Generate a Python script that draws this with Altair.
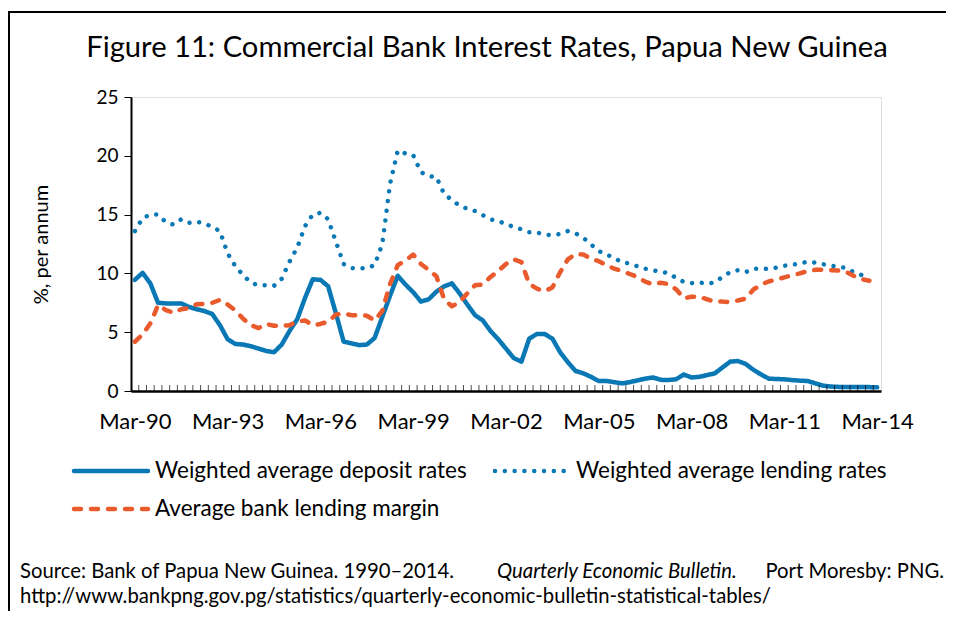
import altair as alt
import pandas as pd

# ---------------- data ----------------
months = ["Mar", "Jun", "Sep", "Dec"]
years = list(range(1990, 2015))
quarters = [f"{m}-{y % 100:02d}" for y in years for m in months][:97]  # Mar-90 .. Mar-14

deposit = [9.45, 10.05, 9.15, 7.5, 7.45, 7.45, 7.45, 7.15, 6.95, 6.8, 6.55, 5.6,
           4.4, 4.0, 3.95, 3.8, 3.6, 3.4, 3.3, 3.95, 5.1, 6.1, 7.9, 9.5,
           9.45, 8.9, 6.6, 4.2, 4.05, 3.9, 3.95, 4.5, 6.3, 8.1, 9.8, 9.05,
           8.4, 7.6, 7.8, 8.45, 8.9, 9.15, 8.3, 7.35, 6.45, 6.0, 5.1, 4.4,
           3.6, 2.8, 2.5, 4.45, 4.85, 4.85, 4.45, 3.3, 2.45, 1.7, 1.5, 1.2,
           0.85, 0.85, 0.75, 0.65, 0.75, 0.9, 1.05, 1.15, 0.95, 0.93, 1.0, 1.4,
           1.15, 1.2, 1.35, 1.5, 2.0, 2.5, 2.55, 2.3, 1.8, 1.4, 1.05, 1.02,
           0.99, 0.93, 0.88, 0.85, 0.65, 0.45, 0.38, 0.35, 0.35, 0.33, 0.33, 0.33,
           0.31]

lending = [13.6, 14.7, 15.0, 15.0, 14.35, 14.15, 14.6, 14.3, 14.4, 14.25, 13.95, 13.6,
           11.7, 10.6, 9.86, 9.2, 9.0, 9.0, 8.95, 9.55, 11.0, 12.2, 14.0, 15.0,
           15.15, 14.6, 12.7, 10.8, 10.45, 10.42, 10.45, 10.7, 12.5, 17.6, 20.45, 20.2,
           20.05, 18.6, 18.27, 18.2, 16.75, 16.25, 15.75, 15.5, 15.3, 14.95, 14.6, 14.45,
           14.2, 13.95, 13.75, 13.5, 13.48, 13.3, 13.25, 13.35, 13.6, 13.4, 13.03, 12.46,
           11.9, 11.6, 11.33, 10.92, 10.85, 10.6, 10.4, 10.25, 10.18, 10.0, 9.62, 9.28,
           9.17, 9.23, 9.12, 9.23, 9.7, 10.12, 10.27, 10.11, 10.4, 10.38, 10.39, 10.5,
           10.65, 10.75, 10.84, 11.0, 10.92, 10.78, 10.66, 10.58, 10.46, 10.1, 9.86, 9.75]

margin = [4.19, 4.8, 5.75, 7.3, 6.88, 6.65, 6.95, 7.05, 7.38, 7.4, 7.5, 7.75,
          7.35, 6.85, 6.15, 5.6, 5.35, 5.7, 5.55, 5.55, 5.6, 5.9, 6.0, 5.6,
          5.7, 5.9, 6.5, 6.6, 6.45, 6.45, 6.4, 6.0, 6.8, 9.1, 10.7, 11.1,
          11.6, 10.8, 10.3, 9.75, 7.8, 7.2, 7.55, 8.3, 9.0, 9.05, 9.7, 10.2,
          10.8, 11.2, 10.95, 9.1, 8.7, 8.5, 8.8, 10.1, 11.2, 11.65, 11.6, 11.25,
          11.04, 10.7, 10.4, 10.2, 9.95, 9.7, 9.3, 9.08, 9.2, 9.1, 8.65, 7.88,
          8.02, 8.02, 7.8, 7.6, 7.6, 7.56, 7.7, 7.86, 8.63, 9.05, 9.32, 9.48,
          9.66, 9.85, 10.0, 10.2, 10.3, 10.31, 10.28, 10.24, 10.12, 9.78, 9.5, 9.38]

series_names = ["Weighted average deposit rates",
                "Weighted average lending rates",
                "Average bank lending margin"]
series_values = [deposit, lending, margin]
y_ticks = [0, 5, 10, 15, 20, 25]
label_every = 12

title_text = "Figure 11: Commercial Bank Interest Rates, Papua New Guinea"
y_title = "%, per annum"
source_1a = "Source: Bank of Papua New Guinea. 1990\u20132014."
source_1b = "Quarterly Economic Bulletin."
source_1c = "Port Moresby: PNG."
source_2 = "http://www.bankpng.gov.pg/statistics/quarterly-economic-bulletin-statistical-tables/"

# ---------------- tables ----------------
rows = []
for name, vals in zip(series_names, series_values):
    for i, v in enumerate(vals):
        rows.append({"idx": i, "quarter": quarters[i], "series": name, "value": v})
df = pd.DataFrame(rows)

n = len(quarters)
tick_df = pd.DataFrame({"b": [k + 0.5 for k in range(n - 1)], "y0": [0] * (n - 1)})

label_vals = list(range(0, n, label_every))
label_map = "{" + ",".join(f"'{v}':'{quarters[v]}'" for v in label_vals) + "}"

FONT = "Lato"
BLUE = "#0A78B5"
ORANGE = "#E95A2D"
colors = [BLUE, BLUE, ORANGE]
dashes = [[1, 0], [0.01, 9.8], [7, 10]]

W, H = 750, 294

xscale = alt.Scale(domain=[-0.5, n - 0.5], nice=False, zero=False)
yscale = alt.Scale(domain=[0, 25], nice=False)

lines = alt.Chart(df).mark_line(strokeWidth=4.5, strokeCap="round", strokeJoin="round").encode(
    x=alt.X("idx:Q", scale=xscale,
            axis=alt.Axis(values=label_vals, labelExpr=f"{label_map}[datum.value]",
                          title=None, ticks=False, grid=False, domainColor="black",
                          domainWidth=2.5, labelFont=FONT, labelFontSize=22,
                          labelColor="black", labelPadding=20, labelFlush=False)),
    y=alt.Y("value:Q", scale=yscale,
            axis=alt.Axis(values=y_ticks, title=y_title, grid=False, domainColor="black",
                          domainWidth=2, tickColor="black", tickSize=7, tickWidth=1,
                          labelFont=FONT, labelFontSize=19, labelColor="black",
                          labelPadding=6, titleFont=FONT, titleFontSize=20,
                          titleFontWeight="normal", titleColor="black", titlePadding=44)),
    color=alt.Color("series:N", scale=alt.Scale(domain=series_names, range=colors), legend=None),
    strokeDash=alt.StrokeDash("series:N", scale=alt.Scale(domain=series_names, range=dashes),
                              legend=None),
    detail="series:N",
)

ticks = alt.Chart(tick_df).mark_tick(orient="vertical", size=6, yOffset=-3, thickness=1,
                                     color="black").encode(
    x=alt.X("b:Q", scale=xscale),
    y=alt.Y("y0:Q", scale=yscale),
)

# manual legend (line samples + labels)
legend_pos = [(-59, 374), (362, 374), (-59, 412)]  # left x of sample, y center (plot coords)
legend_layers = []
for name, col, dsh, (lx, ly) in zip(series_names, colors, dashes, legend_pos):
    ldf = pd.DataFrame({"label": [name]})
    legend_layers.append(
        alt.Chart(ldf).mark_rule(strokeWidth=4.5, strokeCap="round", color=col, strokeDash=dsh).encode(
            x=alt.value(lx + 2), x2=alt.value(lx + 76), y=alt.value(ly))
    )
    legend_layers.append(
        alt.Chart(ldf).mark_text(align="left", baseline="middle", font=FONT, fontSize=22.5,
                                 color="black").encode(
            text="label:N", x=alt.value(lx + 83), y=alt.value(ly))
    )

src = pd.DataFrame({"t": [source_1a, source_1b, source_1c, source_2]})
SRC_FS = 20.3
src_layers = [
    alt.Chart(src.iloc[[0]]).mark_text(align="left", baseline="alphabetic", font=FONT, fontSize=SRC_FS,
                                       color="black").encode(text="t:N", x=alt.value(-111), y=alt.value(481)),
    alt.Chart(src.iloc[[1]]).mark_text(align="left", baseline="alphabetic", font=FONT, fontSize=SRC_FS,
                                       fontStyle="italic", color="black").encode(text="t:N", x=alt.value(366), y=alt.value(481)),
    alt.Chart(src.iloc[[2]]).mark_text(align="right", baseline="alphabetic", font=FONT, fontSize=SRC_FS,
                                       color="black").encode(text="t:N", x=alt.value(813), y=alt.value(481)),
    alt.Chart(src.iloc[[3]]).mark_text(align="left", baseline="alphabetic", font=FONT, fontSize=SRC_FS,
                                       color="black").encode(text="t:N", x=alt.value(-111), y=alt.value(506)),
]

title_layer = alt.Chart(pd.DataFrame({"t": [title_text]})).mark_text(
    align="center", baseline="alphabetic", font=FONT, fontSize=29.2, color="black").encode(
    text="t:N", x=alt.value(356), y=alt.value(-40))

frame_df = pd.DataFrame({"f": [0]})
frame = [
    alt.Chart(frame_df).mark_rule(color="black", strokeWidth=2).encode(
        x=alt.value(-123), x2=alt.value(815), y=alt.value(-85)),
    alt.Chart(frame_df).mark_rule(color="black", strokeWidth=2).encode(
        x=alt.value(-122), y=alt.value(-85), y2=alt.value(514)),
]

chart = alt.layer(lines, ticks, *legend_layers, *src_layers, title_layer, *frame).properties(
    width=W, height=H,
    padding={"left": 123, "top": 89, "right": 65, "bottom": 220},
    autosize=alt.AutoSizeParams(type="none"),
).configure_view(stroke="#999999", strokeWidth=1).configure(background="white")

chart.save("out.html", embed_options={"renderer": "svg", "actions": False})
